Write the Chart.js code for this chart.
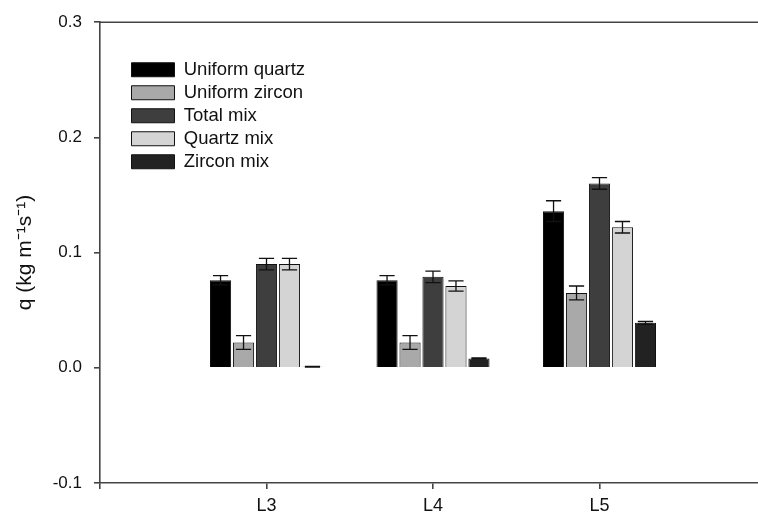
<!DOCTYPE html>
<html><head><meta charset="utf-8">
<script src="https://cdn.jsdelivr.net/npm/chart.js@4.4.1/dist/chart.umd.min.js"></script>
<style>html,body{margin:0;padding:0;overflow:hidden;background:#fff}</style>
</head><body>
<canvas id="c" width="776" height="520"></canvas>
<script>
// ---- data ----
const categories = ['L3', 'L4', 'L5'];
const seriesNames = ['Uniform quartz', 'Uniform zircon', 'Total mix', 'Quartz mix', 'Zircon mix'];
const uniformQuartz = [0.076, 0.076, 0.136];
const uniformZircon = [0.022, 0.022, 0.065];
const totalMix      = [0.090, 0.079, 0.160];
const quartzMix     = [0.090, 0.071, 0.122];
const zirconMix     = [0.001, 0.008, 0.039];
const uniformQuartzErr = [0.004, 0.004, 0.009];
const uniformZirconErr = [0.006, 0.006, 0.006];
const totalMixErr      = [0.005, 0.005, 0.005];
const quartzMixErr     = [0.005, 0.0045, 0.005];
const zirconMixErr     = [0.0003, 0.0005, 0.0012];
const yTickValues = [-0.1, 0.0, 0.1, 0.2, 0.3];

// ---- styles ----
const fills = ['#000000', '#a9a9a9', '#3e3e3e', '#d4d4d4', '#222222'];
const axisColor = '#444444';
const fontFamily = 'Arial, "Liberation Sans", Helvetica, sans-serif';

const pad = arr => [null, ...arr, null];
const labels = ['', ...categories, ''];
const values = [uniformQuartz, uniformZircon, totalMix, quartzMix, zirconMix];
const errors = [uniformQuartzErr, uniformZirconErr, totalMixErr, quartzMixErr, zirconMixErr];

const datasets = seriesNames.map((name, i) => ({
  label: name,
  data: pad(values[i]),
  errors: pad(errors[i]),
  backgroundColor: fills[i],
  borderColor: '#111111',
  borderWidth: 1,
  categoryPercentage: 0.69,
  barPercentage: 0.92
}));

const errorBars = {
  id: 'errorBars',
  afterDatasetsDraw(chart) {
    const ctx = chart.ctx, ys = chart.scales.y;
    chart.data.datasets.forEach((ds, i) => {
      const meta = chart.getDatasetMeta(i);
      meta.data.forEach((bar, j) => {
        const v = ds.data[j], e = ds.errors[j];
        if (v == null || e == null) return;
        const x = bar.x, hw = bar.width * 0.36;
        const yHi = ys.getPixelForValue(v + e), yLo = ys.getPixelForValue(v - e);
        ctx.save();
        ctx.strokeStyle = '#111';
        ctx.lineWidth = 1.3;
        ctx.beginPath();
        ctx.moveTo(x, yHi); ctx.lineTo(x, yLo);
        ctx.moveTo(x - hw, yHi); ctx.lineTo(x + hw, yHi);
        ctx.moveTo(x - hw, yLo); ctx.lineTo(x + hw, yLo);
        ctx.stroke();
        ctx.restore();
      });
    });
  }
};

const topBorder = {
  id: 'topBorder',
  afterDraw(chart) {
    const {ctx, chartArea: a} = chart;
    ctx.save();
    ctx.strokeStyle = axisColor;
    ctx.lineWidth = 1.6;
    ctx.beginPath();
    ctx.moveTo(a.left, a.top); ctx.lineTo(a.right, a.top);
    ctx.stroke();
    ctx.restore();
  }
};

const legendShift = {
  id: 'legendShift',
  afterLayout(chart) {
    const l = chart.legend;
    if (l) { l.left += 27; l.top += 56; }
  }
};

new Chart(document.getElementById('c'), {
  type: 'bar',
  data: { labels, datasets },
  plugins: [errorBars, topBorder, legendShift],
  options: {
    responsive: false,
    animation: false,
    devicePixelRatio: 1,
    layout: { padding: { top: 18, right: 10, left: 0, bottom: 0 } },
    plugins: {
      tooltip: { enabled: false },
      legend: {
        position: 'chartArea',
        align: 'start',
        labels: {
          boxWidth: 43, boxHeight: 14, padding: 4.5,
          color: '#111',
          font: { family: fontFamily, size: 18.5 }
        }
      }
    },
    scales: {
      x: {
        type: 'category',
        offset: false,
        grid: { offset: false, drawOnChartArea: false, drawTicks: true, tickLength: 6, color: axisColor, lineWidth: 1.6 },
        border: { display: true, color: axisColor, width: 1.6 },
        ticks: { color: '#111', font: { family: fontFamily, size: 18 }, padding: 6, maxRotation: 0, autoSkip: false },
        afterFit(s) { s.height = 37; }
      },
      y: {
        min: -0.1, max: 0.3,
        afterBuildTicks(s) { s.ticks = yTickValues.map(v => ({ value: v })); },
        grid: { drawOnChartArea: false, drawTicks: true, tickLength: 6, color: axisColor, lineWidth: 1.6 },
        border: { display: true, color: axisColor, width: 1.6 },
        ticks: { color: '#111', font: { family: fontFamily, size: 17 }, padding: 12, callback: v => Number(v).toFixed(1) },
        title: { display: true, text: 'q (kg m\u207B\u00B9s\u207B\u00B9)', color: '#111', font: { family: fontFamily, size: 21 }, padding: { top: 13, bottom: 0 } },
        afterFit(s) { s.width = 100; }
      }
    }
  }
});
</script>
</body></html>
